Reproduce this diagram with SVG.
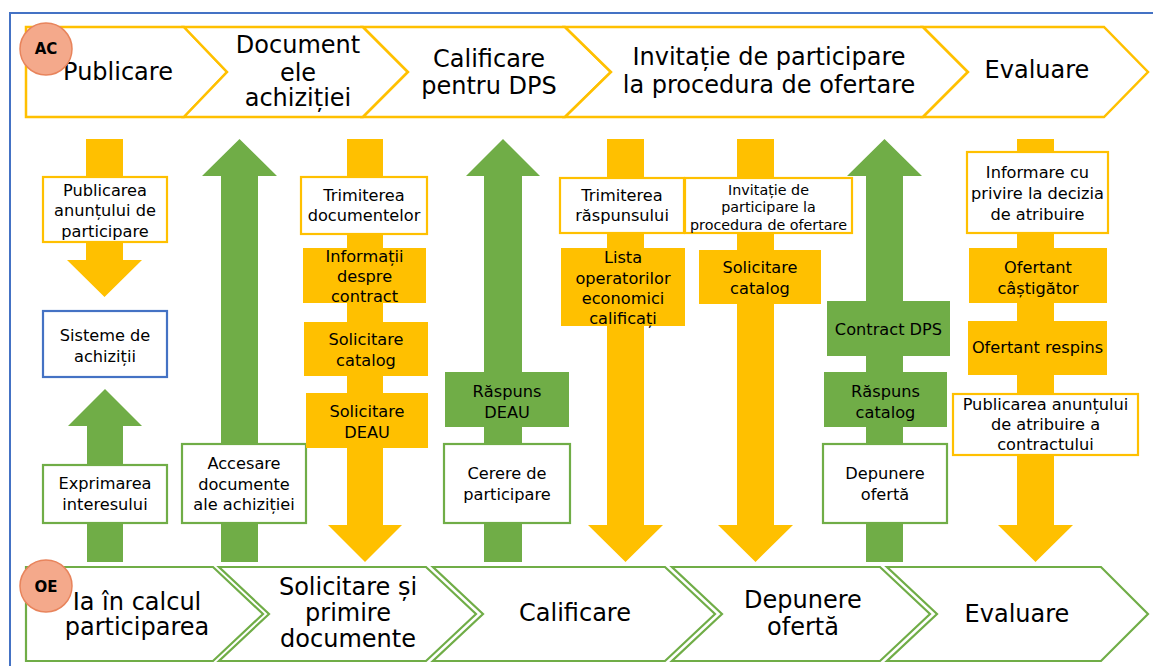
<svg xmlns="http://www.w3.org/2000/svg" width="1153" height="666" viewBox="0 0 1153 666">
<style>
text{font-family:"DejaVu Sans","Liberation Sans",sans-serif;fill:#000;text-anchor:middle}
.hd{font-size:24px}
.bx{font-size:16.2px}
.sm{font-size:14.3px}
.lbl{font-size:15px;font-weight:bold}
.hy{fill:#fff;stroke:#FFC000;stroke-width:2.5}
.hg{fill:#fff;stroke:#70AD47;stroke-width:2.2}
.ya{fill:#FFC000}
.ga{fill:#70AD47}
.wy{fill:#fff;stroke:#FFC000;stroke-width:2.2}
.wg{fill:#fff;stroke:#70AD47;stroke-width:2.2}
.wb{fill:#fff;stroke:#4472C4;stroke-width:2.2}
.fy{fill:#FFC000}
.fg{fill:#70AD47}
.circ{fill:#F4A98B;stroke:#E8845C;stroke-width:1.5}
</style>
<rect x="0" y="0" width="1153" height="666" fill="#fff"/>
<rect x="10" y="13" width="1160" height="670" fill="none" stroke="#4472C4" stroke-width="2"/>

<g id="connectors">
<polygon class="ya" points="86,139 123,139 123,260 142,260 104.5,297 67,260 86,260"/>
<polygon class="ga" points="105,389 142,426 123,426 123,562 87,562 87,426 68,426"/>
<polygon class="ga" points="239.5,139 277,176 258,176 258,562 221,562 221,176 202,176"/>
<polygon class="ya" points="347,139 383,139 383,525 402,525 365,562 328,525 347,525"/>
<polygon class="ga" points="503,139 540,176 522,176 522,562 484,562 484,176 466,176"/>
<polygon class="ya" points="607,139 644,139 644,525 663,525 625.5,562 588,525 607,525"/>
<polygon class="ya" points="737,139 774,139 774,525 793,525 755.5,562 718,525 737,525"/>
<polygon class="ga" points="884.5,139 922,176 903,176 903,562 866,562 866,176 847,176"/>
<polygon class="ya" points="1017,139 1054,139 1054,525 1073,525 1035.5,562 998,525 1017,525"/>
</g>

<g id="ac-header">
<polygon class="hy" points="26,27 184,27 227,72 184,117 26,117"/>
<polygon class="hy" points="184,27 363,27 408,72 363,117 184,117 227,72"/>
<polygon class="hy" points="363,27 565,27 611,72 565,117 363,117 408,72"/>
<polygon class="hy" points="565,27 923,27 968,72 923,117 565,117 611,72"/>
<polygon class="hy" points="923,27 1104,27 1148,72 1104,117 923,117 968,72"/>
<text class="hd" x="118" y="80">Publicare</text>
<text class="hd" x="298" y="53">Document</text>
<text class="hd" x="298" y="81">ele</text>
<text class="hd" x="298" y="106">achiziției</text>
<text class="hd" x="489" y="67">Calificare</text>
<text class="hd" x="489" y="94">pentru DPS</text>
<text class="hd" x="769" y="65">Invitație de participare</text>
<text class="hd" x="769" y="93">la procedura de ofertare</text>
<text class="hd" x="1037" y="78">Evaluare</text>
<circle class="circ" cx="46" cy="49" r="26"/>
<text class="lbl" x="46" y="54">AC</text>
</g>

<g id="oe-header">
<polygon class="hg" points="26,567 213,567 263,614 213,661 26,661"/>
<polygon class="hg" points="219,567 426,567 476,614 426,661 219,661 269,614"/>
<polygon class="hg" points="433,567 665,567 715,614 665,661 433,661 483,614"/>
<polygon class="hg" points="672,567 880,567 930,614 880,661 672,661 722,614"/>
<polygon class="hg" points="887,567 1101,567 1148,614 1101,661 887,661 937,614"/>
<text class="hd" x="137" y="610">Ia în calcul</text>
<text class="hd" x="137" y="635">participarea</text>
<text class="hd" x="348" y="595">Solicitare și</text>
<text class="hd" x="348" y="621">primire</text>
<text class="hd" x="348" y="647">documente</text>
<text class="hd" x="575" y="621">Calificare</text>
<text class="hd" x="803" y="608">Depunere</text>
<text class="hd" x="803" y="635">ofertă</text>
<text class="hd" x="1017" y="622">Evaluare</text>
<circle class="circ" cx="46" cy="586" r="26"/>
<text class="lbl" x="46" y="592">OE</text>
</g>

<g id="n-publicarea-anuntului">
<rect class="wy" x="43" y="177" width="124" height="65"/>
<text class="bx" x="105" y="195.5">Publicarea</text>
<text class="bx" x="105" y="216">anunțului de</text>
<text class="bx" x="105" y="237">participare</text>
</g>
<g id="n-sisteme">
<rect class="wb" x="43" y="311" width="124" height="66"/>
<text class="bx" x="105" y="341">Sisteme de</text>
<text class="bx" x="105" y="362">achiziții</text>
</g>
<g id="n-exprimarea">
<rect class="wg" x="43" y="465" width="124" height="58"/>
<text class="bx" x="105" y="489">Exprimarea</text>
<text class="bx" x="105" y="510">interesului</text>
</g>
<g id="n-accesare">
<rect class="wg" x="182" y="444" width="124" height="79"/>
<text class="bx" x="244" y="469">Accesare</text>
<text class="bx" x="244" y="489.5">documente</text>
<text class="bx" x="244" y="510">ale achiziției</text>
</g>
<g id="n-trimiterea-documentelor">
<rect class="wy" x="301" y="177" width="126" height="57"/>
<text class="bx" x="364" y="201">Trimiterea</text>
<text class="bx" x="364" y="221">documentelor</text>
</g>
<g id="n-informatii">
<rect class="fy" x="303" y="248" width="123" height="55"/>
<text class="bx" x="364.5" y="262">Informații</text>
<text class="bx" x="364.5" y="282">despre</text>
<text class="bx" x="364.5" y="302">contract</text>
</g>
<g id="n-solicitare-catalog-1">
<rect class="fy" x="304" y="322" width="124" height="54"/>
<text class="bx" x="366" y="345">Solicitare</text>
<text class="bx" x="366" y="365.5">catalog</text>
</g>
<g id="n-solicitare-deau">
<rect class="fy" x="306" y="393" width="122" height="55"/>
<text class="bx" x="367" y="417">Solicitare</text>
<text class="bx" x="367" y="437.5">DEAU</text>
</g>
<g id="n-raspuns-deau">
<rect class="fg" x="445" y="372" width="124" height="55"/>
<text class="bx" x="507" y="397">Răspuns</text>
<text class="bx" x="507" y="417.5">DEAU</text>
</g>
<g id="n-cerere">
<rect class="wg" x="444" y="444" width="126" height="79"/>
<text class="bx" x="507" y="478.5">Cerere de</text>
<text class="bx" x="507" y="500">participare</text>
</g>
<g id="n-trimiterea-raspunsului">
<rect class="wy" x="560" y="178" width="124" height="55"/>
<text class="bx" x="622" y="201">Trimiterea</text>
<text class="bx" x="622" y="221">răspunsului</text>
</g>
<g id="n-lista">
<rect class="fy" x="561" y="248" width="124" height="78"/>
<text class="bx" x="623" y="263">Lista</text>
<text class="bx" x="623" y="283.5">operatorilor</text>
<text class="bx" x="623" y="304">economici</text>
<text class="bx" x="623" y="324">calificați</text>
</g>
<g id="n-invitatie">
<rect class="wy" x="685" y="178" width="167" height="55"/>
<text class="sm" x="768.5" y="194.5">Invitație de</text>
<text class="sm" x="768.5" y="212">participare la</text>
<text class="sm" x="768.5" y="229.5">procedura de ofertare</text>
</g>
<g id="n-solicitare-catalog-2">
<rect class="fy" x="699" y="250" width="122" height="54"/>
<text class="bx" x="760" y="273">Solicitare</text>
<text class="bx" x="760" y="293.5">catalog</text>
</g>
<g id="n-contract-dps">
<rect class="fg" x="827" y="301" width="123" height="55"/>
<text class="bx" x="888.5" y="335">Contract DPS</text>
</g>
<g id="n-raspuns-catalog">
<rect class="fg" x="824" y="372" width="123" height="55"/>
<text class="bx" x="885.5" y="397">Răspuns</text>
<text class="bx" x="885.5" y="417.5">catalog</text>
</g>
<g id="n-depunere">
<rect class="wg" x="823" y="444" width="124" height="79"/>
<text class="bx" x="885" y="478.5">Depunere</text>
<text class="bx" x="885" y="499.5">ofertă</text>
</g>
<g id="n-informare">
<rect class="wy" x="967" y="152" width="141" height="81"/>
<text class="bx" x="1037.5" y="178">Informare cu</text>
<text class="bx" x="1037.5" y="198.5">privire la decizia</text>
<text class="bx" x="1037.5" y="219.5">de atribuire</text>
</g>
<g id="n-ofertant-castigator">
<rect class="fy" x="969" y="248" width="138" height="55"/>
<text class="bx" x="1038" y="273">Ofertant</text>
<text class="bx" x="1038" y="294">câștigător</text>
</g>
<g id="n-ofertant-respins">
<rect class="fy" x="968" y="321" width="139" height="54"/>
<text class="bx" x="1037.5" y="353">Ofertant respins</text>
</g>
<g id="n-publicarea-atribuire">
<rect class="wy" x="953" y="394" width="185" height="61"/>
<text class="bx" x="1045.5" y="410">Publicarea anunțului</text>
<text class="bx" x="1045.5" y="430">de atribuire a</text>
<text class="bx" x="1045.5" y="450">contractului</text>
</g>
</svg>
